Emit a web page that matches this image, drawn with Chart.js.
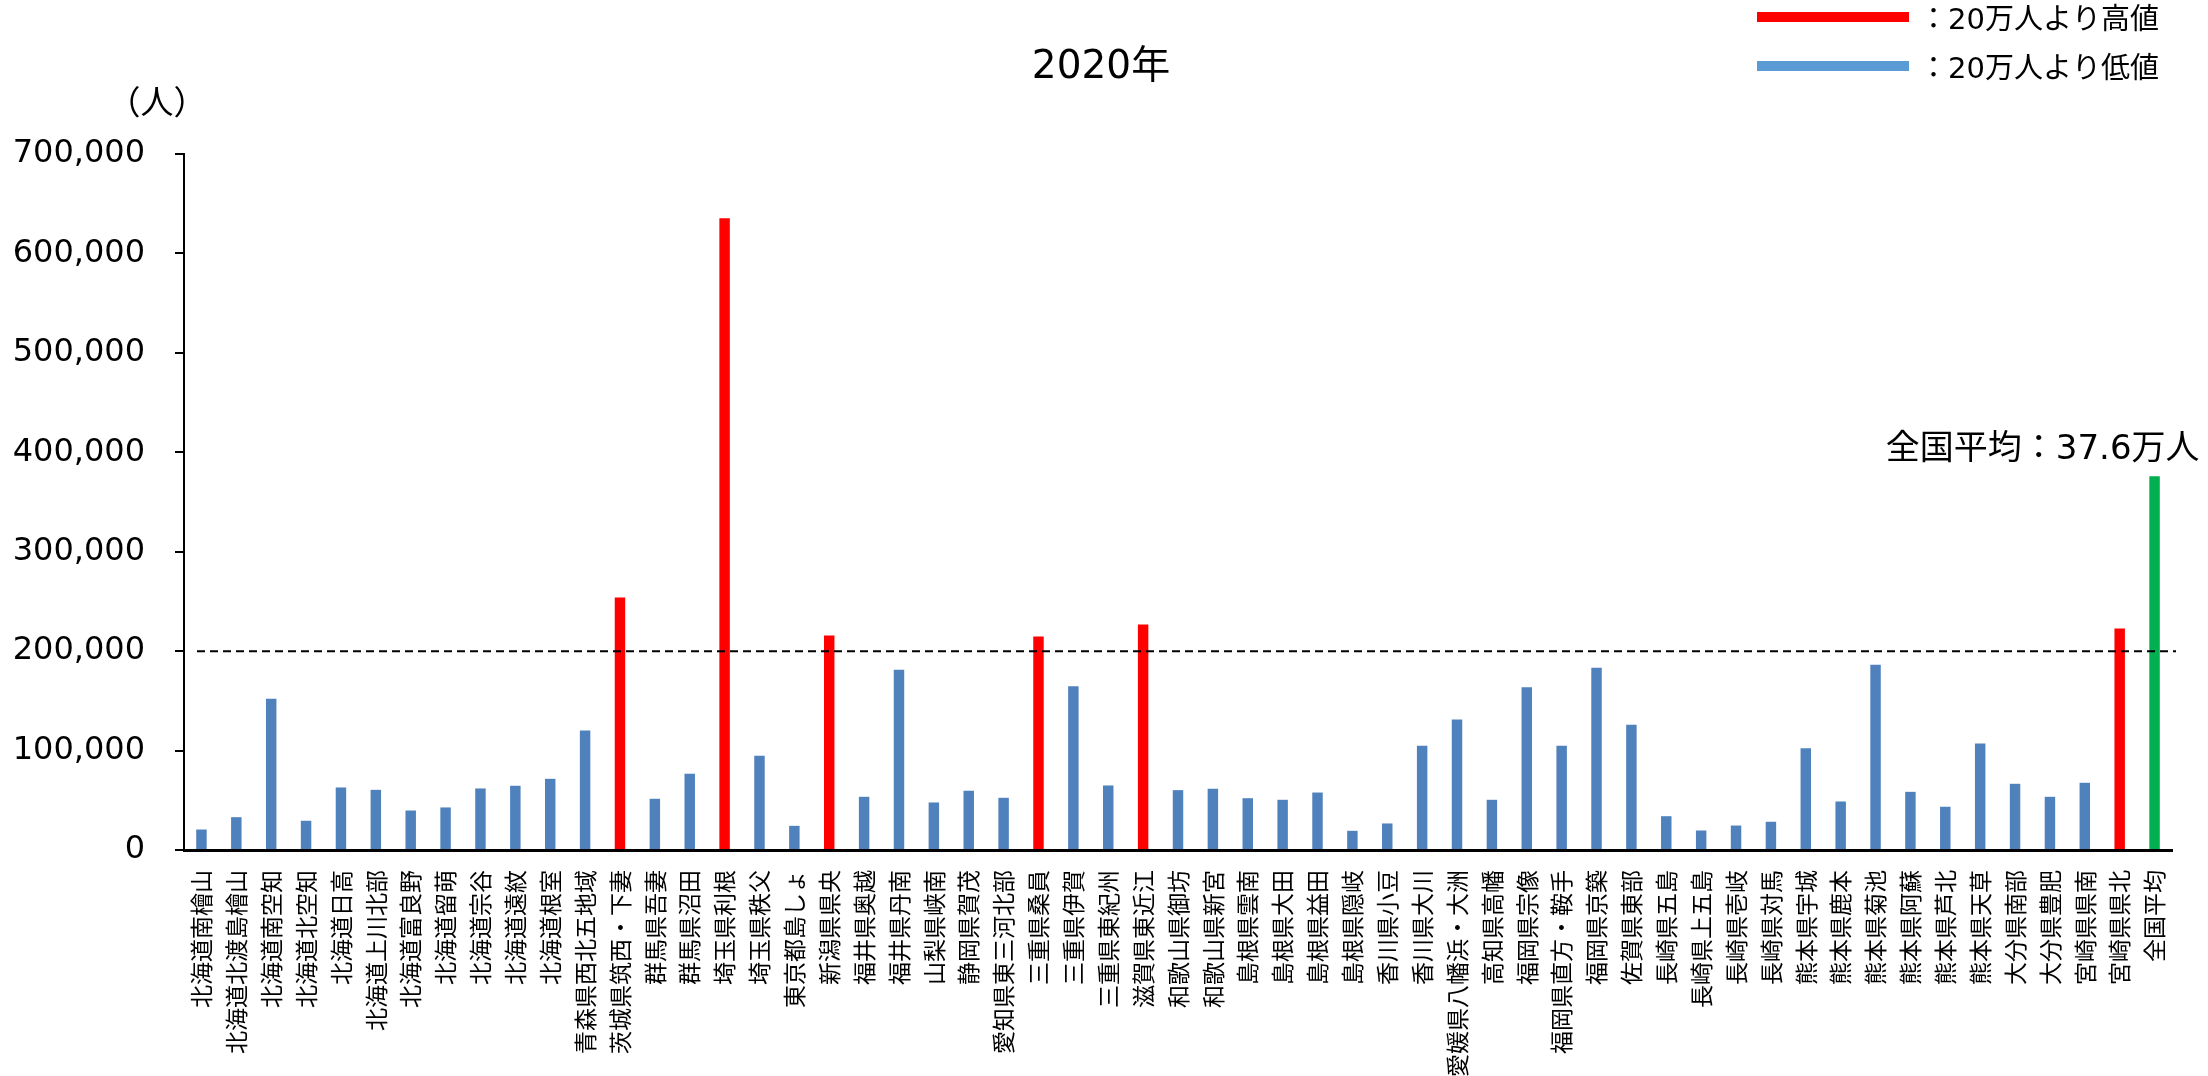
<!DOCTYPE html>
<html lang="ja">
<head>
<meta charset="utf-8">
<title>2020年</title>
<script src="https://cdn.jsdelivr.net/npm/chart.js@4.4.1/dist/chart.umd.min.js"></script>
<style>
  html, body { margin: 0; padding: 0; background: #ffffff; }
  #wrap { position: relative; width: 2208px; height: 1076px; }
</style>
</head>
<body>
<div id="wrap"><canvas id="c" width="2208" height="1076"></canvas></div>
<script>
// Secondary medical areas and the national average (people)
const categories = [
  '北海道南檜山', '北海道北渡島檜山', '北海道南空知', '北海道北空知', '北海道日高', '北海道上川北部',
  '北海道富良野', '北海道留萌', '北海道宗谷', '北海道遠紋', '北海道根室', '青森県西北五地域',
  '茨城県筑西・下妻', '群馬県吾妻', '群馬県沼田', '埼玉県利根', '埼玉県秩父', '東京都島しょ',
  '新潟県県央', '福井県奥越', '福井県丹南', '山梨県峡南', '静岡県賀茂', '愛知県東三河北部',
  '三重県桑員', '三重県伊賀', '三重県東紀州', '滋賀県東近江', '和歌山県御坊', '和歌山県新宮',
  '島根県雲南', '島根県大田', '島根県益田', '島根県隠岐', '香川県小豆', '香川県大川',
  '愛媛県八幡浜・大洲', '高知県高幡', '福岡県宗像', '福岡県直方・鞍手', '福岡県京築', '佐賀県東部',
  '長崎県五島', '長崎県上五島', '長崎県壱岐', '長崎県対馬', '熊本県宇城', '熊本県鹿本',
  '熊本県菊池', '熊本県阿蘇', '熊本県芦北', '熊本県天草', '大分県南部', '大分県豊肥',
  '宮崎県県南', '宮崎県県北', '全国平均'
];

const population = [
  20600, 33000, 152000, 29400, 62900, 60500,
  39700, 42800, 61900, 64600, 71600, 120200,
  254000, 51500, 76700, 635300, 94800, 24300,
  215800, 53500, 181300, 47800, 59600, 52500,
  214800, 164800, 64900, 226900, 60200, 61600,
  52100, 50500, 57800, 19300, 26700, 104800,
  131300, 50500, 163800, 104800, 183300, 126000,
  34000, 19600, 24600, 28400, 102400, 48800,
  186300, 58500, 43500, 107000, 66600, 53500,
  67600, 222800, 376000
];

const yTickValues = [0, 100000, 200000, 300000, 400000, 500000, 600000, 700000];
const threshold = 200000;
const averageLabel = '全国平均';

const titleText = '2020年';
const unitText = '（人）';
const averageNote = '全国平均：37.6万人';
const legendTexts = ['：20万人より高値', '：20万人より低値'];

const COLOR_HIGH = '#FF0000';
const COLOR_LOW = '#4F81BD';
const COLOR_LOW_KEY = '#5B9BD5';
const COLOR_AVG = '#00B050';
const FONT_LATIN = '"DejaVu Sans", "Noto Sans CJK JP", sans-serif';
const FONT_JP = '"Noto Sans CJK JP", sans-serif';

const barColors = categories.map((name, i) => {
  if (name === averageLabel) return COLOR_AVG;
  return population[i] > threshold ? COLOR_HIGH : COLOR_LOW;
});

// Threshold line, title, unit, legend and the average note
const overlay = {
  id: 'overlay',
  afterDatasetsDraw(chart) {
    const { ctx, chartArea, scales } = chart;
    const yThr = scales.y.getPixelForValue(threshold);

    ctx.save();
    ctx.strokeStyle = '#000000';
    ctx.lineWidth = 2;
    ctx.setLineDash([8, 5]);
    ctx.beginPath();
    ctx.moveTo(chartArea.left + 13, yThr);
    ctx.lineTo(chartArea.right + 4, yThr);
    ctx.stroke();
    ctx.setLineDash([]);

    ctx.fillStyle = '#000000';
    ctx.textBaseline = 'middle';

    ctx.textAlign = 'center';
    ctx.font = '39px ' + FONT_LATIN;
    ctx.fillText(titleText, 1101, 68);

    ctx.font = '33px ' + FONT_JP;
    ctx.fillText(unitText, 157, 101);

    // legend keys
    const keyColors = [COLOR_HIGH, COLOR_LOW_KEY];
    const keyY = [17, 66];
    ctx.textAlign = 'left';
    ctx.font = '29px ' + FONT_LATIN;
    keyColors.forEach((c, k) => {
      ctx.fillStyle = c;
      ctx.fillRect(1757, keyY[k] - 5, 152, 10);
      ctx.fillStyle = '#000000';
      ctx.fillText(legendTexts[k], 1919, keyY[k] + 4);
    });

    // note above the national-average bar
    const idx = categories.indexOf(averageLabel);
    const bar = chart.getDatasetMeta(0).data[idx];
    ctx.textAlign = 'right';
    ctx.font = '34px ' + FONT_LATIN;
    ctx.fillText(averageNote, bar.x + 45, bar.y - 26);
    ctx.restore();
  }
};

new Chart(document.getElementById('c').getContext('2d'), {
  type: 'bar',
  data: {
    labels: categories,
    datasets: [{
      data: population,
      backgroundColor: barColors,
      borderWidth: 0,
      categoryPercentage: 0.6,
      barPercentage: 0.5
    }]
  },
  options: {
    responsive: false,
    animation: false,
    devicePixelRatio: 1,
    layout: { padding: { top: 154, right: 36, left: 0, bottom: 0 } },
    plugins: {
      legend: { display: false },
      tooltip: { enabled: false },
      title: { display: false }
    },
    scales: {
      x: {
        grid: { display: false, drawTicks: false },
        border: { display: true, color: '#000000', width: 3 },
        ticks: {
          autoSkip: false,
          minRotation: 90,
          maxRotation: 90,
          padding: 20,
          color: '#000000',
          font: { family: FONT_JP, size: 23 }
        },
        afterFit(scale) { scale.height = 226; }
      },
      y: {
        min: 0,
        max: 700000,
        afterBuildTicks(scale) { scale.ticks = yTickValues.map(v => ({ value: v })); },
        grid: { drawOnChartArea: false, drawTicks: true, tickLength: 9, color: '#000000', lineWidth: 2 },
        border: { display: true, color: '#000000', width: 2 },
        ticks: {
          padding: 30,
          color: '#000000',
          font: { family: FONT_LATIN, size: 32 },
          callback: v => v.toLocaleString('en-US')
        },
        afterFit(scale) { scale.width = 184; }
      }
    }
  },
  plugins: [overlay]
});
</script>
</body>
</html>
